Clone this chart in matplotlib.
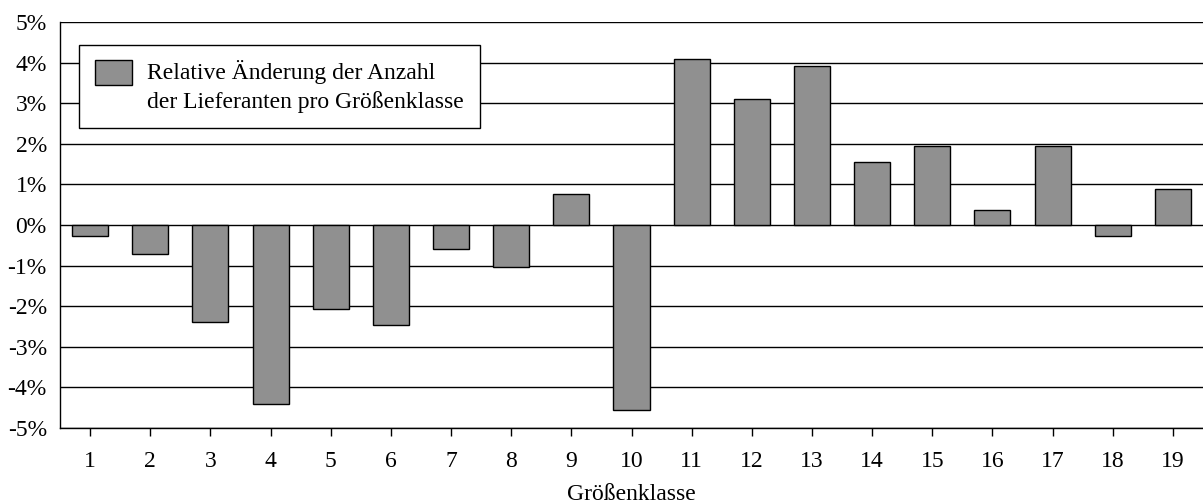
import numpy as np
import matplotlib as mpl
import matplotlib.pyplot as plt
from matplotlib.patches import Rectangle
from matplotlib.legend_handler import HandlerPatch, update_from_first_child

mpl.rcParams.update({'font.family': 'Liberation Serif', 'font.size': 17})

# data
klassen = [str(i) for i in range(1, 20)]
aenderung = [-0.26, -0.72, -2.40, -4.41, -2.08, -2.47, -0.58, -1.04, 0.76, -4.56,
             4.10, 3.11, 3.91, 1.55, 1.94, 0.36, 1.94, -0.26, 0.89]
y_ticks = [-5, -4, -3, -2, -1, 0, 1, 2, 3, 4, 5]
legend_label = 'Relative Änderung der Anzahl\nder Lieferanten pro Größenklasse'


# legend box sits next to the first text line, not centred on both
def first_line_box(legend, orig_handle, xdescent, ydescent, width, height, fontsize):
    h = 1.06 * fontsize
    cy = -ydescent + height / 2 + 0.62 * fontsize
    return Rectangle((-xdescent, cy - h / 2), width, h)


fig = plt.figure(figsize=(12.03, 5.04), dpi=100)
ax = fig.add_axes([0.0499, 0.1508, 0.9501, 0.8055])

x = np.arange(1, len(klassen) + 1)
bars = ax.bar(x, aenderung, width=0.6, color='#909090', edgecolor='black',
              linewidth=1.0, label=legend_label, zorder=3)

ax.set_xlim(0.5, len(klassen) + 0.5)
ax.set_ylim(-5, 5)
ax.set_xticks(x)
ax.set_xticklabels(klassen)
ax.set_yticks(y_ticks)
ax.set_yticklabels(['%d%%' % v for v in y_ticks])
ax.yaxis.grid(True, color='black', linewidth=1.0, zorder=0)
ax.set_axisbelow(True)

ax.tick_params(axis='x', direction='out', length=6, width=1, pad=10.5)
ax.tick_params(axis='y', length=0, pad=9.5)
for s in ['right', 'top']:
    ax.spines[s].set_visible(False)
for s in ['left', 'bottom']:
    ax.spines[s].set_linewidth(1.0)

ax.set_xlabel('Größenklasse', labelpad=9)

leg = ax.legend(loc='upper left', bbox_to_anchor=(0.0166, 0.944), frameon=True,
                fancybox=False, framealpha=1, edgecolor='black',
                borderpad=0.66, handlelength=1.6, handleheight=1.6,
                handletextpad=0.64, borderaxespad=0,
                handler_map={bars: HandlerPatch(patch_func=first_line_box,
                                                update_func=update_from_first_child)})
leg.get_frame().set_linewidth(1.0)
for t in leg.get_texts():
    t.set_linespacing(1.38)

fig.savefig('out.png', dpi=100)
